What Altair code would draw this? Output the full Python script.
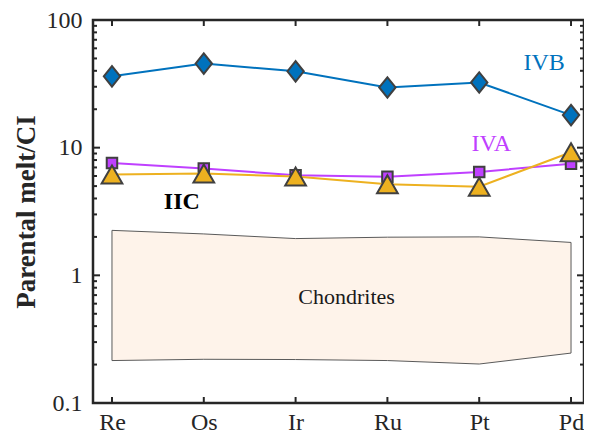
import altair as alt
import pandas as pd

elements = ["Re", "Os", "Ir", "Ru", "Pt", "Pd"]
ivb = [36.2, 45.6, 39.6, 29.6, 32.4, 18.0]
iva = [7.57, 6.87, 6.08, 5.91, 6.46, 7.48]
iic = [6.16, 6.27, 5.94, 5.17, 4.95, 9.2]
chond_top = [2.25, 2.11, 1.94, 1.99, 2.0, 1.81]
chond_bot = [0.215, 0.22, 0.219, 0.215, 0.202, 0.246]

major_ticks = [0.1, 1, 10, 100]
minor_ticks = [0.2, 0.3, 0.4, 0.5, 0.6, 0.7, 0.8, 0.9,
               2, 3, 4, 5, 6, 7, 8, 9,
               20, 30, 40, 50, 60, 70, 80, 90]

# annotation labels: text, anchor element, anchor value, pixel nudge
ann_text = ["IVB", "IVA", "IIC", "Chondrites"]
ann_el = ["Pt", "Pt", "Os", "Ir"]
ann_val = [46, 10.7, 3.77, 0.674]
ann_dx = [65, 12, -22, 51]
ann_color = ["#0072BD", "#BF40FF", "#000000", "#1a1a1a"]
ann_size = [24, 24, 24, 22]
ann_weight = ["normal", "normal", "bold", "normal"]

W, H = 491, 383
FONT = "Liberation Serif"
EDGE = "#404040"
INK = "#262626"

ysc = alt.Scale(type="log", domain=[0.1, 100], nice=False)
xsc = alt.Scale(type="point", padding=0.174, align=0.594)

xaxis = alt.Axis(title=None, labelAngle=0, labelPadding=7, labelFont=FONT,
                 labelFontSize=24, labelColor=INK, ticks=False, domain=False, grid=False)
yaxis = alt.Axis(title="Parental melt/CI", values=major_ticks, format="~g",
                 labelFont=FONT, labelFontSize=24, labelColor=INK,
                 labelPadding=11, ticks=False, domain=False, grid=False,
                 titleFont=FONT, titleFontSize=27, titleFontWeight="bold",
                 titleColor=INK, titlePadding=6)

def X():
    return alt.X("el:N", sort=elements, scale=xsc, axis=xaxis)

def Y(f):
    return alt.Y(f, scale=ysc, axis=yaxis)

chond = pd.DataFrame({"el": elements, "top": chond_top, "bot": chond_bot})
area = alt.Chart(chond).mark_area(
    fill="#FEF3EA", stroke="#5a5a5a", strokeWidth=1, opacity=1
).encode(x=X(), y=Y("top:Q"), y2="bot:Q")

def series(vals, color, shape, size):
    df = pd.DataFrame({"el": elements, "v": vals})
    line = alt.Chart(df).mark_line(color=color, strokeWidth=2).encode(x=X(), y=Y("v:Q"))
    pts = alt.Chart(df).mark_point(
        shape=shape, filled=True, fill=color, stroke=EDGE, strokeWidth=2,
        size=size, opacity=1, fillOpacity=1
    ).encode(x=X(), y=Y("v:Q"))
    return line + pts

s_ivb = series(ivb, "#0072BD", "M-0.8,0L0,-1L0.8,0L0,1Z", 420)
s_iva = series(iva, "#BF40FF", "square", 110)
s_iic = series(iic, "#EDB120", "triangle-up", 430)

# inward ticks (box style)
maj = pd.DataFrame({"v": major_ticks})
mnr = pd.DataFrame({"v": minor_ticks})
cats = pd.DataFrame({"el": elements})
tl = alt.Chart(maj).mark_rule(color=INK, strokeWidth=2).encode(
    y=Y("v:Q"), x=alt.value(0), x2=alt.value(7))
tr = alt.Chart(maj).mark_rule(color=INK, strokeWidth=2).encode(
    y=Y("v:Q"), x=alt.value(W - 7), x2=alt.value(W))
ml = alt.Chart(mnr).mark_rule(color=INK, strokeWidth=2).encode(
    y=Y("v:Q"), x=alt.value(0), x2=alt.value(4))
mr = alt.Chart(mnr).mark_rule(color=INK, strokeWidth=2).encode(
    y=Y("v:Q"), x=alt.value(W - 4), x2=alt.value(W))
tb = alt.Chart(cats).mark_rule(color=INK, strokeWidth=2).encode(
    x=X(), y=alt.value(H - 6), y2=alt.value(H))
tt = alt.Chart(cats).mark_rule(color=INK, strokeWidth=2).encode(
    x=X(), y=alt.value(0), y2=alt.value(6))

labels = []
for t, e, v, dx, c, s, w in zip(ann_text, ann_el, ann_val, ann_dx, ann_color, ann_size, ann_weight):
    d = pd.DataFrame({"el": [e], "v": [v], "t": [t]})
    labels.append(alt.Chart(d).mark_text(
        font=FONT, fontSize=s, fontWeight=w, color=c, dx=dx, align="center", baseline="middle"
    ).encode(x=X(), y=Y("v:Q"), text="t:N"))

chart = alt.layer(
    area, *labels, s_ivb, s_iva, s_iic, tl, tr, ml, mr, tb, tt
).properties(
    width=W, height=H,
    background="white",
    autosize=alt.AutoSizeParams(type="none"),
    padding={"left": 85, "top": 12, "right": 0, "bottom": 34},
).configure_view(
    stroke=INK, strokeWidth=2.5
)

chart.save("out.html", embed_options={"renderer": "svg", "actions": False})
